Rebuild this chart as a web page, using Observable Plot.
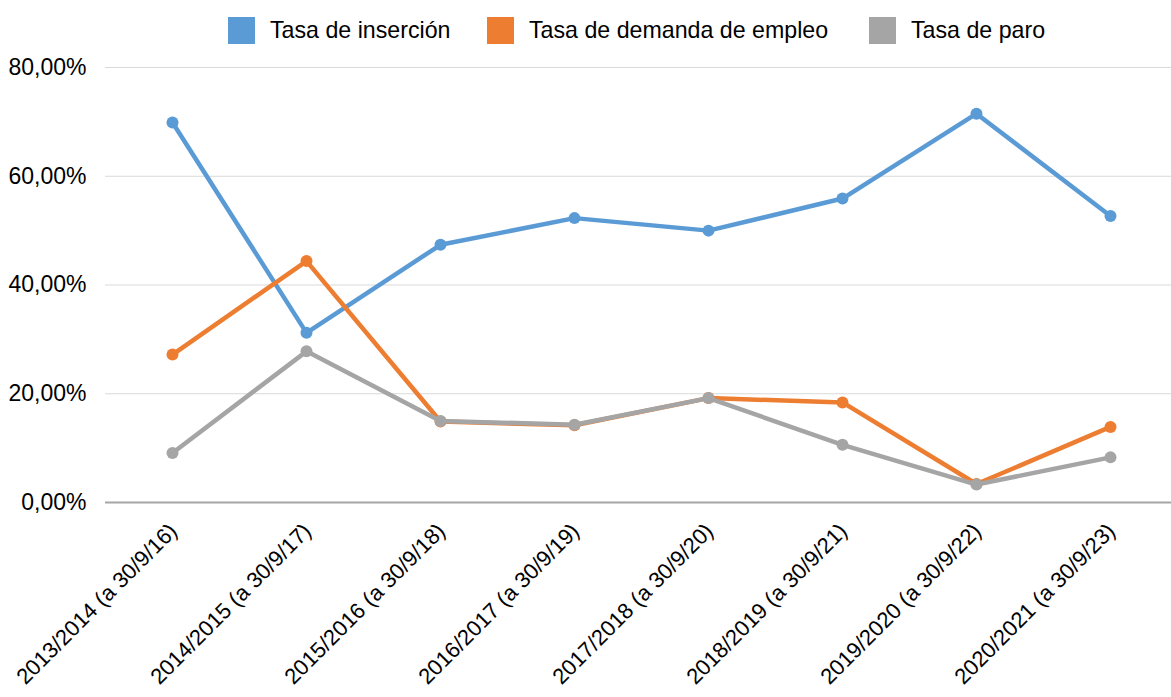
<!DOCTYPE html>
<html>
<head>
<meta charset="utf-8">
<script src="https://cdn.jsdelivr.net/npm/d3@7"></script>
<script src="https://cdn.jsdelivr.net/npm/@observablehq/plot@0.6"></script>
<style>
  html, body { margin: 0; padding: 0; background: #fff; }
  body { width: 1171px; height: 697px; overflow: hidden; font-family: "Liberation Sans", Arial, sans-serif; }
  #legend { position: relative; height: 60px; width: 1171px; }
  .item { position: absolute; top: 17px; display: flex; align-items: center; height: 27px; font-size: 23.2px; color: #000; white-space: nowrap; }
  .sw { width: 27px; height: 27px; margin-right: 15px; }
</style>
</head>
<body>
<div id="legend"></div>
<div id="chart"></div>
<script>
const categories = [
  "2013/2014 (a 30/9/16)",
  "2014/2015 (a 30/9/17)",
  "2015/2016 (a 30/9/18)",
  "2016/2017 (a 30/9/19)",
  "2017/2018 (a 30/9/20)",
  "2018/2019 (a 30/9/21)",
  "2019/2020 (a 30/9/22)",
  "2020/2021 (a 30/9/23)"
];
const seriesNames = ["Tasa de inserción", "Tasa de demanda de empleo", "Tasa de paro"];
const insercion = [69.9, 31.2, 47.4, 52.3, 50.0, 55.9, 71.5, 52.7];
const demanda   = [27.2, 44.4, 14.9, 14.2, 19.2, 18.4, 3.4, 13.9];
const paro      = [9.1, 27.8, 15.0, 14.3, 19.2, 10.6, 3.3, 8.3];
const yTicks = [0, 20, 40, 60, 80];
const colors = ["#5b9bd5", "#ed7d31", "#a5a5a5"];

const seriesValues = [insercion, demanda, paro];
const data = seriesNames.map((s, i) => categories.map((c, j) => ({series: s, cat: c, value: seriesValues[i][j]})));

// legend
const legendLeft = [228, 487, 869];
const legend = document.getElementById("legend");
seriesNames.forEach((s, i) => {
  const it = document.createElement("div");
  it.className = "item";
  it.style.left = legendLeft[i] + "px";
  it.innerHTML = `<span class="sw" style="background:${colors[i]}"></span><span>${s}</span>`;
  legend.appendChild(it);
});

const fmt = d => d.toFixed(2).replace(".", ",") + "%";

const marks = [
  Plot.ruleY(yTicks.filter(d => d > 0), {stroke: "#d9d9d9", strokeWidth: 1.2}),
  Plot.ruleY([0], {stroke: "#a6a6a6", strokeWidth: 2}),
  Plot.text(yTicks, {y: d => d, text: fmt, frameAnchor: "left", textAnchor: "end", dx: -19, fontSize: 23, fill: "#000"}),
  Plot.text(categories, {x: d => d, text: d => d, frameAnchor: "bottom", rotate: -45, textAnchor: "end", dx: 6, dy: 30, fontSize: 22, fill: "#000"})
];
data.forEach((rows) => {
  marks.push(Plot.lineY(rows, {x: "cat", y: "value", stroke: "series", strokeWidth: 4.5, strokeLinejoin: "round", strokeLinecap: "round"}));
  marks.push(Plot.dot(rows, {x: "cat", y: "value", fill: "series", r: 6, stroke: "none"}));
});

const chart = Plot.plot({
  width: 1171,
  height: 637,
  marginTop: 7,
  marginBottom: 195,
  marginLeft: 105,
  marginRight: 0,
  style: {fontFamily: "Liberation Sans, Arial, sans-serif", fontSize: "23px", background: "#fff", overflow: "visible"},
  x: {type: "point", domain: categories, range: [172, 1110], padding: 0, axis: null},
  y: {domain: [0, 80], axis: null},
  color: {domain: seriesNames, range: colors},
  marks
});
document.getElementById("chart").appendChild(chart);
</script>
</body>
</html>
